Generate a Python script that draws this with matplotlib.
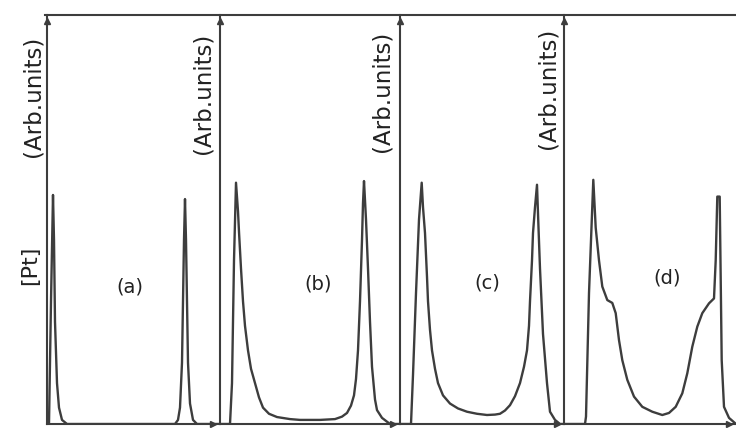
import matplotlib
matplotlib.use("Agg")
import matplotlib.pyplot as plt
from matplotlib.lines import Line2D

# ---- data (position offset from each panel's axis, relative [Pt]) ----
panel_names = ["(a)", "(b)", "(c)", "(d)"]
y_label = "(Arb.units)"
conc_label = "[Pt]"

pos_a = [0, 2, 4, 6, 7, 8, 10, 12, 15, 20, 128, 131, 133, 135, 137, 138, 139, 141, 143, 146, 150, 173]
conc_a = [0, 0.0, 0.30, 0.56, 0.45, 0.25, 0.10, 0.04, 0.01, 0.0, 0.0, 0.01, 0.04, 0.15, 0.45, 0.55, 0.45, 0.15, 0.05, 0.01, 0.0, 0.0]

pos_b = [0, 10, 12, 14, 16, 18, 19, 21, 23, 25, 28, 31, 35, 39, 43, 49, 57, 70, 80, 100, 115, 122, 127, 131,
         134, 136, 138, 140, 142, 143, 144, 146, 148, 150, 152, 155, 157, 162, 170, 180]
conc_b = [0, 0.0, 0.10, 0.40, 0.59, 0.52, 0.47, 0.38, 0.30, 0.24, 0.18, 0.135, 0.10, 0.065, 0.04, 0.025, 0.017, 0.012, 0.01, 0.01, 0.012, 0.018, 0.027, 0.045,
          0.07, 0.11, 0.18, 0.30, 0.45, 0.54, 0.594, 0.50, 0.38, 0.25, 0.14, 0.06, 0.034, 0.015, 0.0, 0.0]

pos_c = [0, 11, 13, 16, 19, 21.7, 23, 25, 27, 28, 30, 32, 35, 38, 43, 50, 58, 67, 77, 87, 95, 100, 105, 110, 115,
         120, 124, 127, 129, 130, 132, 133, 135, 137, 138.5, 140, 143, 147, 150, 155, 160, 164]
conc_c = [0, 0.0, 0.12, 0.32, 0.50, 0.59, 0.53, 0.467, 0.36, 0.30, 0.23, 0.18, 0.135, 0.10, 0.07, 0.05, 0.038, 0.03, 0.025, 0.022, 0.023, 0.025, 0.033, 0.046, 0.068,
          0.10, 0.14, 0.18, 0.24, 0.30, 0.40, 0.467, 0.53, 0.585, 0.48, 0.38, 0.22, 0.10, 0.03, 0.01, 0.0, 0.0]

pos_d = [0, 21, 22, 25, 29.3, 31.7, 35, 38.3, 43.3, 48.3, 51.7, 55, 58.3, 63.3, 70, 78.3, 88.3, 98.3, 105,
         111.7, 118.3, 123.3, 128.3, 133.3, 138.3, 145, 150, 151.7, 153.3, 155.7, 157.7, 160, 165, 172]
conc_d = [0, 0.0, 0.018, 0.32, 0.597, 0.48, 0.40, 0.336, 0.303, 0.296, 0.271, 0.205, 0.156, 0.108, 0.067, 0.042, 0.030, 0.022, 0.027,
          0.042, 0.075, 0.124, 0.189, 0.238, 0.271, 0.295, 0.307, 0.40, 0.556, 0.556, 0.156, 0.042, 0.015, 0.0]

positions = [pos_a, pos_b, pos_c, pos_d]
concs = [conc_a, conc_b, conc_c, conc_d]

# ---- layout (pixels) ----
W, H = 736, 428
panel_left = [47, 220, 400, 564]
panel_width = [173, 180, 164, 172]
bottom_px, top_px = 424, 15
label_xy = [(130, 287), (318, 284), (487, 283), (667, 278)]
arb_xy = [(33, 96), (203, 93), (382, 91), (548, 88)]

ink = "#3d3d3d"
fig = plt.figure(figsize=(W / 100, H / 100), dpi=100)
fig.patch.set_facecolor("white")

for i in range(4):
    ax = fig.add_axes([panel_left[i] / W, 1 - bottom_px / H, panel_width[i] / W, (bottom_px - top_px) / H])
    ax.set_xlim(0, panel_width[i])
    ax.set_ylim(0, 1)
    ax.plot(positions[i], concs[i], color=ink, lw=1.7, solid_joinstyle="round")
    for s in ["top", "right"]:
        ax.spines[s].set_visible(False)
    for s in ["left", "bottom"]:
        ax.spines[s].set_color(ink)
        ax.spines[s].set_linewidth(1.5)
    ax.set_xticks([])
    ax.set_yticks([])
    ax.patch.set_alpha(0)
    # arrowheads
    ax.plot([0], [0.985], marker="^", ms=5, color=ink, transform=ax.transAxes, clip_on=False)
    ax.plot([0.96], [0.0], marker=">", ms=4, color=ink, transform=ax.transAxes, clip_on=False)
    # texts
    lx, ly = label_xy[i]
    fig.text(lx / W, 1 - ly / H, panel_names[i], ha="center", va="center", fontsize=14, color="#222222")
    axx, axy = arb_xy[i]
    fig.text(axx / W, 1 - axy / H, y_label, rotation=90, ha="center", va="center", fontsize=16.5, color="#222222")

fig.text(30 / W, 1 - 265 / H, conc_label, rotation=90, ha="center", va="center", fontsize=16, color="#222222")

# common top line
fig.add_artist(Line2D([45 / W, 1.0], [1 - top_px / H, 1 - top_px / H], color=ink, lw=1.5))

fig.savefig("out.png", dpi=100, facecolor="white")
